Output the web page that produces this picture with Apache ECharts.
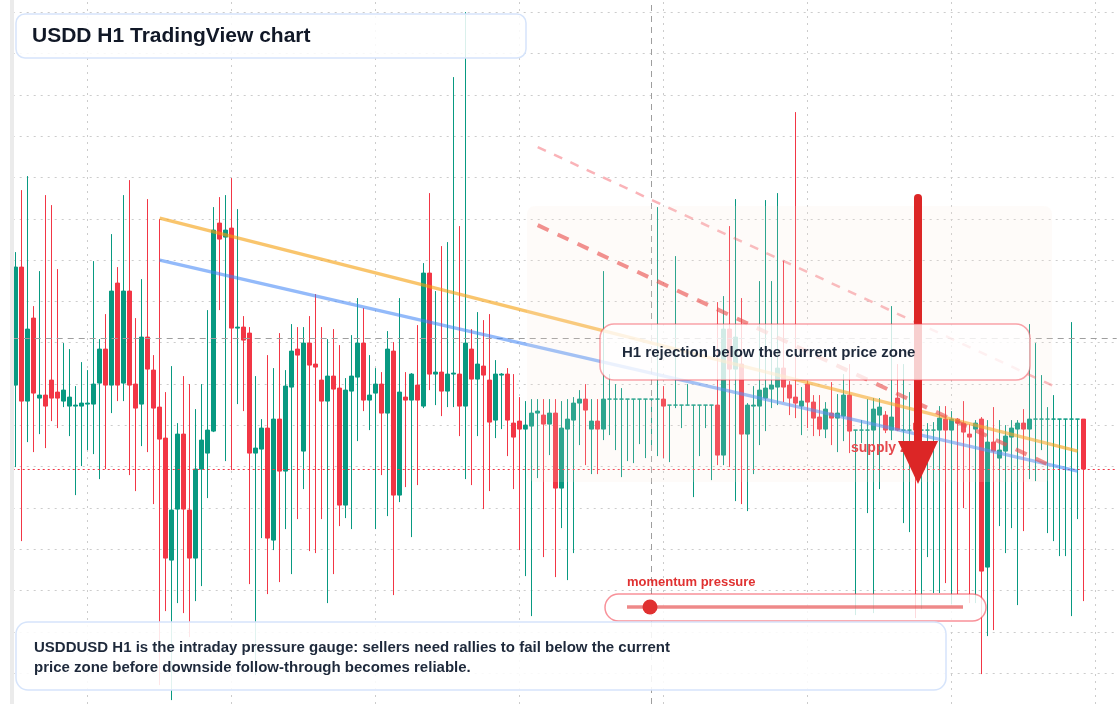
<!DOCTYPE html>
<html>
<head>
<meta charset="utf-8">
<title>USDD H1 TradingView chart</title>
<script src="https://cdn.jsdelivr.net/npm/echarts@6/dist/echarts.min.js"></script>
<style>
  html, body { margin: 0; padding: 0; background: #fff; }
  #chart { width: 1120px; height: 704px; }
</style>
</head>
<body>
<div id="chart"></div>
<script>
  // H1 candles, in price ticks (axis labels are not shown)
  var opens = [
    288, 406, 272, 355, 275, 278, 293, 281, 272, 267, 267, 267, 269, 269, 290, 324, 288, 390, 290, 382,
    289, 269, 336, 303, 266, 235, 113, 164, 239, 163, 115, 204, 220, 242, 450, 436, 445, 345, 346, 340,
    220, 224, 245, 133, 254, 202, 286, 324, 222, 330, 309, 293, 272, 297, 285, 168, 282, 296, 330, 273,
    280, 289, 260, 322, 178, 276, 273, 288, 267, 400, 299, 301, 282, 299, 299, 267, 324, 294, 307, 293,
    253, 298, 299, 250, 252, 244, 247, 260, 258, 249, 260, 185, 244, 253, 270, 274, 244, 252, 244, 274,
    274, 274, 274, 274, 274, 274, 274, 274, 274, 268, 268, 268, 268, 268, 268, 268, 268, 268, 218, 344,
    304, 309, 239, 267, 267, 275, 284, 286, 305, 288, 276, 267, 289, 271, 256, 244, 260, 255, 257, 278,
    243, 243, 243, 243, 258, 258, 243, 275, 243, 243, 250, 243, 243, 243, 243, 254, 243, 254, 250, 239,
    244, 254, 106, 231, 215, 222, 236, 244, 250, 244, 254, 254, 254, 254, 254, 254, 254, 254, 254
  ];
  var closes = [
    406, 272, 344, 280, 278, 267, 275, 275, 283, 276, 268, 270, 270, 289, 324, 288, 382, 288, 382, 288,
    265, 336, 304, 265, 234, 115, 163, 239, 164, 115, 204, 233, 243, 443, 434, 443, 345, 346, 333, 220,
    225, 245, 135, 254, 202, 287, 322, 318, 330, 308, 306, 272, 297, 284, 168, 283, 297, 330, 273, 278,
    289, 260, 324, 178, 281, 273, 299, 273, 400, 299, 301, 282, 299, 300, 267, 330, 294, 309, 298, 251,
    299, 299, 253, 236, 244, 248, 260, 262, 249, 260, 185, 245, 254, 270, 274, 263, 252, 244, 274, 274,
    274, 274, 274, 274, 274, 274, 274, 274, 267, 268, 268, 268, 268, 268, 268, 268, 268, 218, 344, 304,
    336, 239, 268, 268, 283, 285, 288, 305, 286, 275, 270, 272, 271, 255, 244, 264, 255, 260, 278, 242,
    243, 243, 243, 264, 266, 243, 256, 243, 243, 243, 243, 243, 243, 243, 255, 243, 254, 250, 241, 236,
    250, 102, 231, 222, 223, 237, 245, 250, 244, 254, 254, 254, 254, 254, 254, 254, 254, 254, 204
  ];
  var lows = [
    206, 132, 231, 221, 239, 225, 252, 245, 266, 237, 178, 207, 223, 219, 194, 204, 260, 272, 272, 198,
    182, 227, 221, 169, -12, 62, -27, 70, 60, 36, 72, 87, 175, 241, 363, 212, 203, 269, 262, 89,
    -2, 135, 79, 123, 91, 144, 99, 154, 184, 122, 120, 154, 70, 99, 147, 155, 144, 232, 262, 243,
    144, 198, 157, 78, 171, 186, 136, 188, 265, 283, 268, 257, 266, 266, 237, 194, 188, 237, 164, 182,
    235, 244, 217, 184, 123, 97, 57, 195, 116, 218, 96, 145, 93, 120, 228, 208, 199, 199, 233, 238,
    223, 196, 212, 210, 229, 215, 224, 217, 215, 211, 265, 245, 268, 176, 217, 245, 193, 208, 208, 206,
    172, 169, 162, 199, 228, 242, 265, 268, 271, 258, 255, 238, 245, 237, 237, 235, 228, 221, 232, 220,
    58, 230, 160, 60, 184, 240, 233, 242, 150, 141, 55, 64, 116, 80, 80, 90, 69, 79, 165, 70,
    70, -1, 37, 43, 147, 120, 145, 68, 142, 194, 192, 223, 140, 132, 117, 117, 57, 154, 72
  ];
  var highs = [
    421, 483, 497, 367, 402, 478, 468, 404, 330, 324, 287, 311, 303, 412, 334, 359, 439, 406, 478, 493,
    355, 394, 474, 318, 454, 281, 307, 250, 297, 289, 264, 289, 363, 466, 476, 478, 495, 464, 357, 346,
    297, 254, 318, 305, 340, 303, 349, 346, 346, 357, 379, 346, 334, 344, 328, 295, 338, 375, 365, 318,
    305, 301, 342, 331, 375, 301, 300, 348, 410, 480, 382, 427, 431, 596, 447, 661, 344, 361, 353, 359,
    313, 300, 305, 299, 276, 272, 274, 274, 274, 274, 274, 272, 274, 276, 283, 289, 274, 274, 402, 299,
    289, 285, 274, 274, 274, 274, 274, 466, 287, 268, 417, 268, 289, 268, 268, 268, 268, 371, 377, 447,
    474, 375, 270, 287, 392, 473, 392, 480, 412, 292, 561, 286, 292, 278, 278, 271, 291, 279, 299, 309,
    243, 253, 274, 275, 275, 262, 367, 309, 309, 281, 262, 250, 250, 251, 267, 267, 262, 255, 272, 249,
    253, 256, 253, 266, 253, 248, 253, 253, 264, 349, 330, 298, 266, 278, 254, 254, 351, 254, 254
  ];
  var emptyBars = 5;                       // blank hours right of the last candle

  // price window and grid step of the pane
  var priceMin = -30.9;
  var priceMax = 673.1;
  var priceStep = 41.3;

  // reference levels and drawn trend lines, as [bar index, price]
  var currentPrice = 335;
  var supportLevel = 204;
  var cursorBar = 106;
  var gridBars = [12, 36, 60, 84, 108, 132, 156, 180];
  var orangeTrend = [[24, 455], [177, 222]];
  var blueTrend = [[24, 413], [177, 202]];
  var upperDash = [[87, 526], [173, 287]];
  var lowerDash = [[87, 448], [173, 206]];

  var categories = [];
  for (var i = 0; i < opens.length + emptyBars; i++) {
    categories.push('H' + i);
  }
  var candles = opens.map(function (o, i) {
    return [o, closes[i], lows[i], highs[i]];
  });

  var gridLines = [];
  gridBars.forEach(function (b) { gridLines.push({ xAxis: b }); });
  for (var p = 0; p <= priceMax; p += priceStep) {
    gridLines.push({ yAxis: p });
  }

  function trend(points, color, width, dash) {
    return [
      { coord: points[0], lineStyle: { color: color, width: width, type: dash } },
      { coord: points[1] }
    ];
  }

  var font = '"Liberation Sans", Arial, Helvetica, sans-serif';
  var green = '#089981';
  var red = '#f23645';

  var chart = echarts.init(document.getElementById('chart'));
  var option = {
    animation: false,
    backgroundColor: '#ffffff',
    grid: { left: 12.7, right: 3.3, top: 0, bottom: 0 },
    xAxis: {
      type: 'category',
      data: categories,
      boundaryGap: true,
      axisLine: { show: false },
      axisTick: { show: false },
      axisLabel: { show: false },
      splitLine: { show: false }
    },
    yAxis: {
      type: 'value',
      min: priceMin,
      max: priceMax,
      axisLine: { show: false },
      axisTick: { show: false },
      axisLabel: { show: false },
      splitLine: { show: false }
    },
    series: [
      {
        type: 'line',
        data: [],
        silent: true,
        markLine: {
          z: 1,
          silent: true,
          symbol: ['none', 'none'],
          label: { show: false },
          lineStyle: { color: '#cccccc', type: [2, 5], width: 1 },
          data: gridLines
        }
      },
      {
        type: 'candlestick',
        data: candles,
        barWidth: 4,
        clip: false,
        silent: true,
        itemStyle: {
          color: green,
          color0: red,
          borderColor: green,
          borderColor0: red,
          borderColorDoji: green,
          borderWidth: 1
        },
        markLine: {
          silent: true,
          symbol: ['none', 'none'],
          label: { show: false },
          data: [
            { xAxis: cursorBar, lineStyle: { color: '#9e9e9e', type: [6, 5], width: 1 } },
            { yAxis: currentPrice, lineStyle: { color: '#9e9e9e', type: [6, 5], width: 1 } },
            { yAxis: supportLevel, lineStyle: { color: red, type: [2, 3], width: 1.2 } },
            trend(orangeTrend, 'rgba(245,158,11,0.6)', 3.5, 'solid'),
            trend(blueTrend, 'rgba(59,130,246,0.55)', 3.5, 'solid'),
            trend(upperDash, 'rgba(242,54,69,0.38)', 2.5, [9, 9]),
            trend(lowerDash, 'rgba(230,50,50,0.62)', 4, [12, 10])
          ]
        }
      }
    ],
    graphic: {
      elements: [
        { type: 'rect', z: 30, silent: true, shape: { x: 10, y: 0, width: 4, height: 704 },
          style: { fill: '#ebebeb' } },
        // supply zone shading
        { type: 'rect', z: 6, silent: true, shape: { x: 527, y: 206, width: 525, height: 276, r: 8 },
          style: { fill: 'rgba(250,232,220,0.16)' } },
        // rejection arrow
        { type: 'line', z: 12, silent: true, shape: { x1: 918, y1: 198, x2: 918, y2: 445 },
          style: { stroke: '#dc2626', lineWidth: 8, lineCap: 'round' } },
        { type: 'polygon', z: 12, silent: true, shape: { points: [[898, 441], [938, 441], [918, 484]] },
          style: { fill: '#dc2626' } },
        { type: 'text', z: 11, silent: true,
          style: { x: 851, y: 448, text: 'supply zone', fill: '#e5484d', font: 'bold 14px ' + font,
                   verticalAlign: 'middle' } },
        // annotation box
        { type: 'rect', z: 20, silent: true, shape: { x: 600, y: 324, width: 430, height: 56, r: 14 },
          style: { fill: 'rgba(255,255,255,0.78)', stroke: 'rgba(242,54,69,0.45)', lineWidth: 1.5 } },
        { type: 'text', z: 21, silent: true,
          style: { x: 622, y: 353, text: 'H1 rejection below the current price zone', fill: '#1e293b',
                   font: 'bold 15px ' + font, verticalAlign: 'middle' } },
        // momentum gauge
        { type: 'text', z: 21, silent: true,
          style: { x: 627, y: 582, text: 'momentum pressure', fill: '#e03131',
                   font: 'bold 13px ' + font, verticalAlign: 'middle' } },
        { type: 'rect', z: 20, silent: true, shape: { x: 605, y: 594, width: 381, height: 27, r: 13.5 },
          style: { fill: 'rgba(255,255,255,0.82)', stroke: 'rgba(242,54,69,0.55)', lineWidth: 1.5 } },
        { type: 'line', z: 21, silent: true, shape: { x1: 627, y1: 607, x2: 963, y2: 607 },
          style: { stroke: 'rgba(226,58,58,0.6)', lineWidth: 3.5 } },
        { type: 'circle', z: 22, silent: true, shape: { cx: 650, cy: 607, r: 7.5 },
          style: { fill: '#e03131' } },
        // title
        { type: 'rect', z: 20, silent: true, shape: { x: 16, y: 14, width: 510, height: 44, r: 9 },
          style: { fill: 'rgba(255,255,255,0.85)', stroke: '#d6e4fb', lineWidth: 1.5 } },
        { type: 'text', z: 21, silent: true,
          style: { x: 32, y: 36, text: 'USDD H1 TradingView chart', fill: '#111827',
                   font: 'bold 21px ' + font, verticalAlign: 'middle' } },
        // note
        { type: 'rect', z: 20, silent: true, shape: { x: 16, y: 622, width: 930, height: 68, r: 12 },
          style: { fill: 'rgba(255,255,255,0.88)', stroke: '#d6e4fb', lineWidth: 1.5 } },
        { type: 'text', z: 21, silent: true,
          style: { x: 34, y: 648,
                   text: 'USDDUSD H1 is the intraday pressure gauge: sellers need rallies to fail below the current',
                   fill: '#1e293b', font: 'bold 15px ' + font, verticalAlign: 'middle' } },
        { type: 'text', z: 21, silent: true,
          style: { x: 34, y: 668, text: 'price zone before downside follow-through becomes reliable.',
                   fill: '#1e293b', font: 'bold 15px ' + font, verticalAlign: 'middle' } }
      ]
    }
  };
  chart.setOption(option);
</script>
</body>
</html>
